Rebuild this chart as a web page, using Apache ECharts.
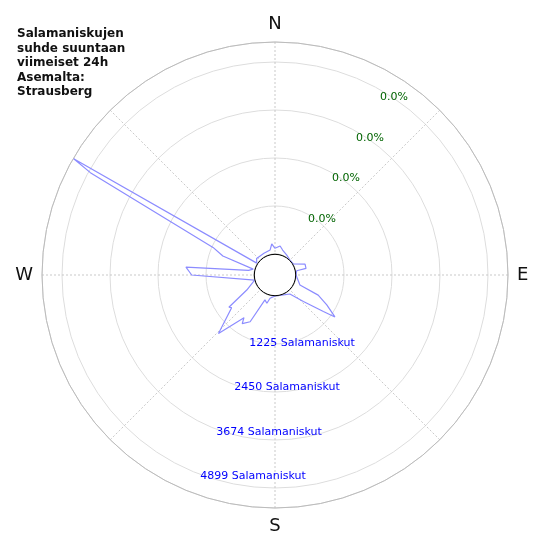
<!DOCTYPE html>
<html><head><meta charset="utf-8">
<script src="https://cdn.jsdelivr.net/npm/echarts@6/dist/echarts.min.js"></script>
<style>html,body{margin:0;padding:0;background:#fff}#c{width:550px;height:550px}</style>
</head><body><div id="c"></div>
<script>
const angles = [0,10,17,30,45,59,70,78,79,90,112,115,120,125,127,133,142,157,180,192,196,202,208,214,216,224,233,235,242,256,270,275,280,285,290,294,299,300,303,312,333,349,354,360];
const counts = [145,215,130,55,5,10,280,273,28,0,150,680,990,1330,1010,455,80,15,0,70,215,150,815,960,810,1540,850,900,280,0,1590,1745,150,40,880,1195,4850,5395,20,95,85,115,260,145];
const ringLabels = ['1225 Salamaniskut','2450 Salamaniskut','3674 Salamaniskut','4899 Salamaniskut'];
const pctLabels = ['0.0%','0.0%','0.0%','0.0%'];
const dirLabels = {0:'N',90:'E',180:'S',270:'W'};
const titleText = 'Salamaniskujen\nsuhde suuntaan\nviimeiset 24h\nAsemalta:\nStrausberg';

const chart = echarts.init(document.getElementById('c'));
const ringPos = [[302,343],[287,387],[269,432],[253,476]];
const pctPos = [[322,219],[346,178],[370,138],[394,97]];
const graphics = [
  {type:'text', left:17, top:27, style:{text:titleText, font:'bold 12px "DejaVu Sans"', fill:'#111', lineHeight:14.5}},
  {type:'circle', shape:{cx:275, cy:275, r:20.7}, style:{fill:'#fff', stroke:'#000', lineWidth:1}, z:100}
];
ringLabels.forEach((t,i)=>graphics.push({type:'text', x:ringPos[i][0], y:ringPos[i][1], style:{text:t, font:'11px "DejaVu Sans"', fill:'#0000ff', align:'center', verticalAlign:'middle'}, z:50}));
pctLabels.forEach((t,i)=>graphics.push({type:'text', x:pctPos[i][0], y:pctPos[i][1], style:{text:t, font:'11px "DejaVu Sans"', fill:'#006400', align:'center', verticalAlign:'middle'}, z:50}));

chart.setOption({
  animation:false,
  polar:{center:[275,275], radius:[21,233]},
  angleAxis:{type:'value', min:0, max:360, interval:45, startAngle:90, clockwise:true,
    axisLine:{lineStyle:{color:'#bbb', width:1}}, axisTick:{show:false},
    axisLabel:{formatter:v=>dirLabels[v]||'', fontSize:18, color:'#111', fontFamily:'DejaVu Sans', margin:9},
    splitLine:{show:true, lineStyle:{color:'#bbb', type:[2,2], width:0.8}}},
  radiusAxis:{type:'value', min:0, max:5409, interval:1224.75,
    axisLine:{show:false}, axisTick:{show:false}, axisLabel:{show:false},
    splitLine:{show:true, lineStyle:{color:'#ddd', width:1}}},
  series:[{type:'line', coordinateSystem:'polar', symbol:'none',
    data:angles.map((a,i)=>[counts[i], a]),
    lineStyle:{color:'#8c8cff', width:1.2}}],
  graphic:graphics
});
</script></body></html>
